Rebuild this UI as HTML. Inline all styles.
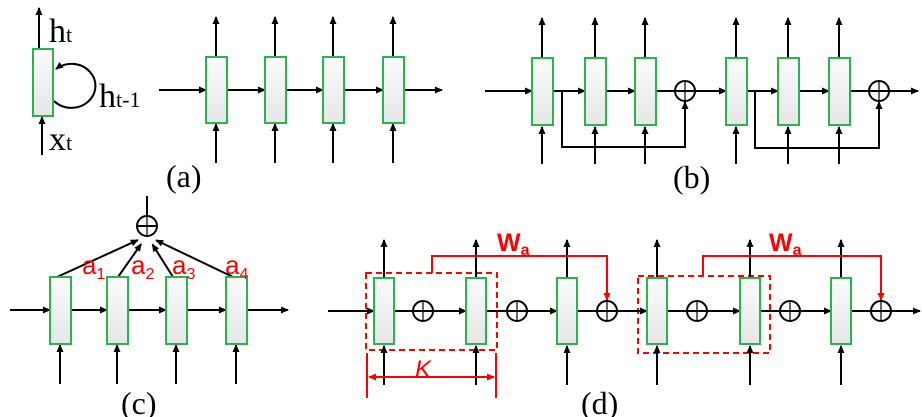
<!DOCTYPE html>
<html><head><meta charset="utf-8"><style>
html,body{margin:0;padding:0;background:#fff;}
svg{display:block;}
</style></head><body>
<svg id="s" width="922" height="417" viewBox="0 0 922 417" xmlns="http://www.w3.org/2000/svg">
<defs>
<linearGradient id="g" x1="0" y1="0" x2="0" y2="1"><stop offset="0" stop-color="#fbfbfb"/><stop offset="1" stop-color="#e6e6e6"/></linearGradient>
<marker id="a" markerWidth="8" markerHeight="8" refX="7" refY="4" orient="auto" markerUnits="userSpaceOnUse"><path d="M0,0.5 L8,4 L0,7.5 Z" fill="#000"/></marker>
<marker id="r" markerWidth="8" markerHeight="8" refX="7" refY="4" orient="auto" markerUnits="userSpaceOnUse"><path d="M0,0.5 L8,4 L0,7.5 Z" fill="#f00"/></marker>
</defs>
<g id="shapes"></g>
<g font-family="Liberation Serif, serif" fill="#000">
<text x="49" y="42" font-size="34">h<tspan font-size="22">t</tspan></text>
<text x="99" y="107" font-size="34">h<tspan font-size="22">t-1</tspan></text>
<text x="49" y="150" font-size="34">x<tspan font-size="22">t</tspan></text>
<text x="166" y="187" font-size="32">(a)</text>
<text x="673" y="188" font-size="32">(b)</text>
<text x="121" y="414" font-size="32">(c)</text>
<text x="581" y="414" font-size="32">(d)</text>
</g>
<g font-family="Liberation Sans, sans-serif" fill="#f00">
<text x="82" y="274" font-size="26">a<tspan font-size="16" dy="5">1</tspan></text>
<text x="131" y="274" font-size="26">a<tspan font-size="16" dy="5">2</tspan></text>
<text x="172" y="274" font-size="26">a<tspan font-size="16" dy="5">3</tspan></text>
<text x="225" y="274" font-size="26">a<tspan font-size="16" dy="5">4</tspan></text>
<text x="497" y="251" font-size="25" font-weight="bold">W<tspan font-size="16" dy="4">a</tspan></text>
<text x="769" y="251" font-size="25" font-weight="bold">W<tspan font-size="16" dy="4">a</tspan></text>
<text x="415" y="377" font-size="24" font-style="italic">K</text>
</g>
</svg>
<script>
const G=document.getElementById('shapes');const NS='http://www.w3.org/2000/svg';
function el(t,a){const e=document.createElementNS(NS,t);for(const k in a)e.setAttribute(k,a[k]);G.appendChild(e);return e;}
function ln(x1,y1,x2,y2,arr,col){const o={x1,y1,x2,y2,stroke:col||'#000','stroke-width':2};if(arr)o['marker-end']=col?'url(#r)':'url(#a)';el('line',o);}
function pl(pts,arr,col){const o={points:pts,fill:'none',stroke:col||'#000','stroke-width':2};if(arr)o['marker-end']=col?'url(#r)':'url(#a)';el('polyline',o);}
function cell(x,y,w,h){el('rect',{x,y,width:w,height:h,fill:'url(#g)',stroke:'#2bb34f','stroke-width':2});}
function plus(cx,cy,r){el('circle',{cx,cy,r,fill:'#fff',stroke:'#000','stroke-width':2});ln(cx-r,cy,cx+r,cy);el('line',{x1:cx,y1:cy-r,x2:cx,y2:cy+r,stroke:'#000','stroke-width':1.2});}
ln(39,49,39,8,1);ln(42,155,42,117,1);
el('path',{d:'M54,101 A24,22 0 1 0 56,69',fill:'none',stroke:'#000','stroke-width':2,'marker-end':'url(#a)'});
cell(33,49,20,67);
const ax=[206,265,323,383];
ln(159,90,206,90,1);
ax.forEach((x,i)=>{ln(x+10,57,x+10,17,1);ln(x+10,163,x+10,124,1);if(i<3)ln(x+21,90,ax[i+1],90,1);});
ln(404,90,442,90,1);
ax.forEach(x=>cell(x,57,21,66));
const bx=[532,585,635,726,778,829];
ln(485,91,532,91,1);
bx.forEach(x=>{ln(x+10,58,x+10,18,1);ln(x+10,164,x+10,127,1);});
ln(553,91,585,91,1);ln(606,91,635,91,1);ln(656,91,675,91);
ln(695,91,726,91,1);ln(747,91,778,91,1);ln(798,91,829,91,1);ln(850,91,869,91);
ln(889,91,918,91,1);
pl('562,91 562,147 685,147 685,102',1);pl('755,91 755,148 879,148 879,102',1);
bx.forEach(x=>cell(x,58,21,67));
plus(685,91,10);plus(879,91,10);
const cx=[50,107,166,226];
ln(147,216,147,196);
[[57,277],[118,277],[173,277],[233,277]].forEach(p=>{const dx=147-p[0],dy=237-p[1],L=Math.hypot(dx,dy);ln(p[0],p[1],147-dx/L*10,236-dy/L*10,1);});
ln(10,310,50,310,1);
cx.forEach((x,i)=>{ln(x+10,384,x+10,345,1);if(i<3)ln(x+21,310,cx[i+1],310,1);});
ln(247,310,288,310,1);
cx.forEach(x=>cell(x,277,21,67));
plus(147,226,10);
const dx=[374,466,557,647,740,831],cc=[423,517,607,697,790,881];
el('rect',{x:366,y:273,width:131,height:77,fill:'none',stroke:'#f00','stroke-width':2,'stroke-dasharray':'6,4'});
el('rect',{x:638,y:276,width:132,height:77,fill:'none',stroke:'#f00','stroke-width':2,'stroke-dasharray':'6,4'});
ln(328,311,374,311,1);
dx.forEach((x,i)=>{ln(x+10,278,x+10,240,1);ln(x+10,385,x+10,346,1);ln(x+20,311,cc[i]-10,311);if(i<5)ln(cc[i]+10,311,dx[i+1],311,1);});
ln(891,311,920,311,1);
dx.forEach(x=>cell(x,278,20,66));
pl('432,273 432,256 607,256 607,300',1,'#f00');
pl('703,276 703,256 881,256 881,300',1,'#f00');
ln(367,353,367,398,0,'#f00');ln(496,353,496,398,0,'#f00');
ln(432,377,369,377,1,'#f00');ln(432,377,494,377,1,'#f00');
cc.forEach(c=>plus(c,311,10));
</script>
</body></html>
